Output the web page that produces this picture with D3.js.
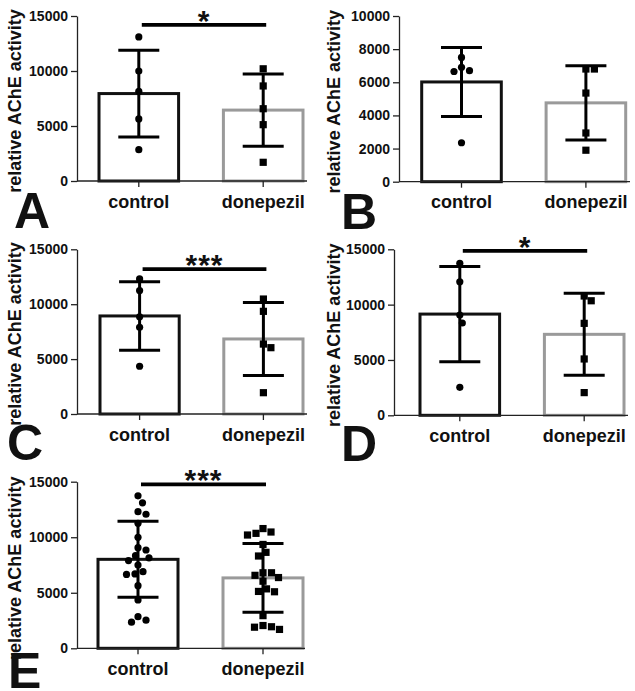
<!DOCTYPE html>
<html>
<head>
<meta charset="utf-8">
<script src="https://cdn.jsdelivr.net/npm/d3@7"></script>
<style>
  html, body { margin: 0; padding: 0; background: #fff; }
  svg { display: block; }
  text { font-family: "Liberation Sans", Arial, Helvetica, sans-serif; font-weight: bold; fill: #111; }
</style>
</head>
<body>
<svg id="chart" width="635" height="691"></svg>
<script>
// ---------------- data ----------------
const categories = ["control", "donepezil"];
const yAxisTitle = "relative AChE activity";
const panelLetters = ["A", "B", "C", "D", "E"];

const controlA   = [13100, 10000, 8150, 5640, 2850];
const donepezilA = [10200, 8640, 6570, 5120, 1700];
const controlB   = [7500, 6700, 6650, 6900, 2350];
const donepezilB = [6800, 6800, 5350, 2940, 1900];
const controlC   = [12300, 11250, 8850, 7900, 4350];
const donepezilC = [10470, 9350, 6370, 6040, 1940];
const controlD   = [13730, 12070, 9060, 8340, 2530];
const donepezilD = [10780, 10350, 8310, 5090, 2050];
// panel E pools the animals of panels A-D
const controlE   = [...controlA, ...controlB, ...controlC, ...controlD];
const donepezilE = [...donepezilA, ...donepezilB, ...donepezilC, ...donepezilD];

const yMaxes    = [15000, 10000, 15000, 15000, 15000];
const tickSteps = [5000, 2000, 5000, 5000, 5000];
const sigHeights = [14200, null, 13200, 14850, 14760];
const sigLabels  = ["*", "", "***", "*", "***"];

// ---------------- layout ----------------
const layout = [
  { axisX: 77,  topY: 16,    zeroY: 181,   xLen: 230, c0: 62,   c1: 186,   labelX: 21,  letterX: 14,  letterY: 228 },
  { axisX: 399, topY: 16,    zeroY: 181.7, xLen: 231, c0: 62.7, c1: 186.7, labelX: 340, letterX: 341, letterY: 229 },
  { axisX: 77,  topY: 249.3, zeroY: 414,   xLen: 230, c0: 63,   c1: 186,   labelX: 21,  letterX: 7,   letterY: 460 },
  { axisX: 394, topY: 249.3, zeroY: 415.3, xLen: 234, c0: 66,   c1: 190,   labelX: 340, letterX: 341, letterY: 461 },
  { axisX: 77,  topY: 481.7, zeroY: 648.3, xLen: 228, c0: 61,   c1: 186,   labelX: 21,  letterX: 8,   letterY: 688 }
];
const seriesData = [
  [controlA, donepezilA],
  [controlB, donepezilB],
  [controlC, donepezilC],
  [controlD, donepezilD],
  [controlE, donepezilE]
];

const barStroke = ["#111", "#9a9a9a"];
const svg = d3.select("#chart");

function swarm(values, y, sep) {
  const idx = values.map((v, i) => i).sort((a, b) => values[b] - values[a]);
  const placed = [];
  const out = new Array(values.length);
  idx.forEach(i => {
    const py = y(values[i]);
    let chosen = 0;
    for (let k = 0; k <= 80; k++) {
      const cand = (k % 2 === 1 ? 1 : -1) * Math.ceil(k / 2) * 0.5;
      const ok = placed.every(p => Math.hypot(p.x - cand, p.y - py) >= sep);
      if (ok) { chosen = cand; break; }
    }
    placed.push({ x: chosen, y: py });
    out[i] = chosen;
  });
  return out;
}

layout.forEach((L, pi) => {
  const g = svg.append("g").attr("transform", `translate(${L.axisX},0)`);
  const y = d3.scaleLinear().domain([0, yMaxes[pi]]).range([L.zeroY, L.topY]);
  const x = d3.scaleBand().domain(categories)
    .range([L.c0 - 41.5, L.c1 + 41.5]).paddingInner(0.336).paddingOuter(0);
  const cx = c => x(c) + x.bandwidth() / 2;

  // bars
  categories.forEach((c, ci) => {
    const vals = seriesData[pi][ci];
    const m = d3.mean(vals);
    g.append("rect")
      .attr("x", x(c) + 1.5).attr("width", x.bandwidth() - 3)
      .attr("y", y(m)).attr("height", y(0) - y(m))
      .attr("fill", "#fff").attr("stroke", barStroke[ci]).attr("stroke-width", 3);
  });

  // y axis
  const ticks = d3.range(0, yMaxes[pi] + 1, tickSteps[pi]);
  const yAxis = d3.axisLeft(y).tickValues(ticks).tickFormat(d3.format("d"))
    .tickSizeOuter(0).tickSizeInner(6).tickPadding(3);
  const ya = g.append("g").call(yAxis);
  ya.select(".domain").attr("stroke", "#222").attr("stroke-width", 1.3);
  ya.selectAll(".tick line").attr("stroke", "#222").attr("stroke-width", 1.3);
  ya.selectAll(".tick text").attr("font-size", 14).attr("font-weight", "bold")
    .attr("fill", "#111").attr("font-family", '"Liberation Sans", Arial, sans-serif');

  // x axis
  const xAxis = d3.axisBottom(x).tickSizeInner(6).tickSizeOuter(0).tickPadding(8);
  const xa = g.append("g").attr("transform", `translate(0,${L.zeroY})`).call(xAxis);
  xa.select(".domain").remove();
  xa.append("line").attr("x1", 0).attr("x2", L.xLen).attr("y1", 0).attr("y2", 0)
    .attr("stroke", "#222").attr("stroke-width", 1.3);
  xa.selectAll(".tick line").attr("stroke", "#222").attr("stroke-width", 1.3);
  xa.selectAll(".tick text").attr("font-size", 18).attr("font-weight", "bold")
    .attr("fill", "#111").attr("font-family", '"Liberation Sans", Arial, sans-serif');

  // points
  categories.forEach((c, ci) => {
    const vals = seriesData[pi][ci];
    const offs = swarm(vals, y, 8.3);
    const pg = g.append("g");
    if (ci === 0) {
      pg.selectAll("circle").data(vals).join("circle")
        .attr("cx", (d, i) => cx(c) + offs[i]).attr("cy", d => y(d))
        .attr("r", 3.6).attr("fill", "#000");
    } else {
      pg.selectAll("rect").data(vals).join("rect")
        .attr("x", (d, i) => cx(c) + offs[i] - 3.6).attr("y", d => y(d) - 3.6)
        .attr("width", 7.2).attr("height", 7.2).attr("fill", "#000");
    }
  });

  // error bars (mean ± SD)
  categories.forEach((c, ci) => {
    const vals = seriesData[pi][ci];
    const m = d3.mean(vals), sd = d3.deviation(vals);
    const eg = g.append("g").attr("stroke", "#000").attr("stroke-width", 3);
    eg.append("line").attr("x1", cx(c)).attr("x2", cx(c)).attr("y1", y(m - sd)).attr("y2", y(m + sd));
    [m - sd, m + sd].forEach(v => {
      eg.append("line").attr("x1", cx(c) - 20.5).attr("x2", cx(c) + 20.5)
        .attr("y1", y(v)).attr("y2", y(v));
    });
  });

  // significance bracket
  if (sigHeights[pi] !== null) {
    const sy = y(sigHeights[pi]);
    g.append("line").attr("x1", cx(categories[0]) + 3).attr("x2", cx(categories[1]) + 3)
      .attr("y1", sy).attr("y2", sy).attr("stroke", "#000").attr("stroke-width", 3.8);
    g.append("text").attr("x", (cx(categories[0]) + cx(categories[1])) / 2 + 3)
      .attr("y", sy + 6).attr("text-anchor", "middle").attr("font-size", 30)
      .attr("letter-spacing", 1)
      .text(sigLabels[pi]);
  }

  // y-axis title
  const midY = L.zeroY - 80;
  svg.append("text")
    .attr("transform", `translate(${L.labelX},${midY}) rotate(-90)`)
    .attr("text-anchor", "middle").attr("font-size", 18).text(yAxisTitle);

  // panel letter
  svg.append("text").attr("x", L.letterX).attr("y", L.letterY)
    .attr("font-size", 50).text(panelLetters[pi]);
});
</script>
</body>
</html>
